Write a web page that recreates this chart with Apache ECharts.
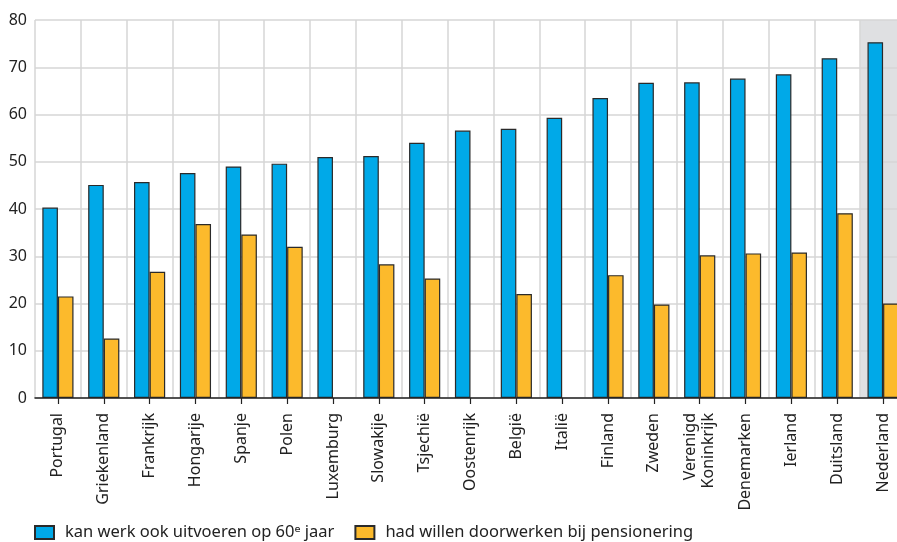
<!DOCTYPE html>
<html>
<head>
<meta charset="utf-8">
<script src="https://cdn.jsdelivr.net/npm/echarts@6/dist/echarts.min.js"></script>
<style>
html,body{margin:0;padding:0;background:#fff;overflow:hidden;width:897px;height:542px;}
#chart{width:906px;height:542px;}
</style>
</head>
<body>
<div id="chart"></div>
<script>
var categories = ['Portugal','Griekenland','Frankrijk','Hongarije','Spanje','Polen','Luxemburg','Slowakije','Tsjechië','Oostenrijk','België','Italië','Finland','Zweden','Verenigd\nKoninkrijk','Denemarken','Ierland','Duitsland','Nederland'];
var kanWerk = [40.3, 45.1, 45.7, 47.6, 49.0, 49.6, 51.0, 51.2, 54.0, 56.6, 57.0, 59.3, 63.5, 66.7, 66.8, 67.6, 68.5, 71.9, 75.3];
var hadWillen = [21.5, 12.6, 26.7, 36.8, 34.6, 32.0, null, 28.3, 25.3, null, 22.0, null, 26.0, 19.8, 30.2, 30.6, 30.8, 39.1, 20.0];
var highlight = [null, null, null, null, null, null, null, null, null, null, null, null, null, null, null, null, null, null, 80];
var seriesNames = ['kan werk ook uitvoeren op 60\u1d49 jaar', 'had willen doorwerken bij pensionering'];
var yTicks = {min: 0, max: 80, interval: 10};

var font = '"Noto Sans", sans-serif';
var chart = echarts.init(document.getElementById('chart'), null, {renderer: 'canvas'});
chart.setOption({
  animation: false,
  backgroundColor: '#ffffff',
  grid: {left: 35, top: 20, width: 871, height: 378, containLabel: false},
  legend: {
    data: seriesNames,
    left: 29, top: 519,
    itemWidth: 19, itemHeight: 13, itemGap: 20,
    textStyle: {fontFamily: font, fontSize: 16.5, color: '#222', padding: [0, 0, 0, 6]},
    icon: 'rect'
  },
  xAxis: [{
    type: 'category',
    data: categories,
    boundaryGap: true,
    axisLine: {show: true, lineStyle: {color: '#222', width: 1.5}},
    axisTick: {show: true, alignWithLabel: true, length: 6, lineStyle: {color: '#222', width: 1.2}},
    axisLabel: {rotate: 90, margin: 15, interval: 0, fontFamily: font, fontSize: 16, color: '#222', lineHeight: 18},
    splitLine: {show: true, interval: 0, lineStyle: {color: '#d6d6d6', width: 1.5}},
    z: 3
  }, {
    type: 'category',
    data: categories,
    boundaryGap: true,
    show: false
  }],
  yAxis: {
    type: 'value',
    min: yTicks.min, max: yTicks.max, interval: yTicks.interval,
    axisLine: {show: false},
    axisTick: {show: false},
    axisLabel: {fontFamily: font, fontSize: 16, color: '#222', margin: 8},
    splitLine: {show: true, lineStyle: {color: '#d6d6d6', width: 1.5}}
  },
  series: [{
    name: 'highlight',
    type: 'bar',
    xAxisIndex: 1,
    data: highlight,
    barWidth: '100%',
    itemStyle: {color: '#dfe0e2'},
    z: -1,
    silent: true
  }, {
    name: seriesNames[0],
    type: 'bar',
    data: kanWerk,
    barGap: '0%',
    barCategoryGap: '32%',
    itemStyle: {color: '#00a9e8', borderColor: '#2a2a2a', borderWidth: 1.2}
  }, {
    name: seriesNames[1],
    type: 'bar',
    data: hadWillen,
    barGap: '0%',
    barCategoryGap: '32%',
    itemStyle: {color: '#fcba2c', borderColor: '#2a2a2a', borderWidth: 1.2}
  }]
});
</script>
</body>
</html>
